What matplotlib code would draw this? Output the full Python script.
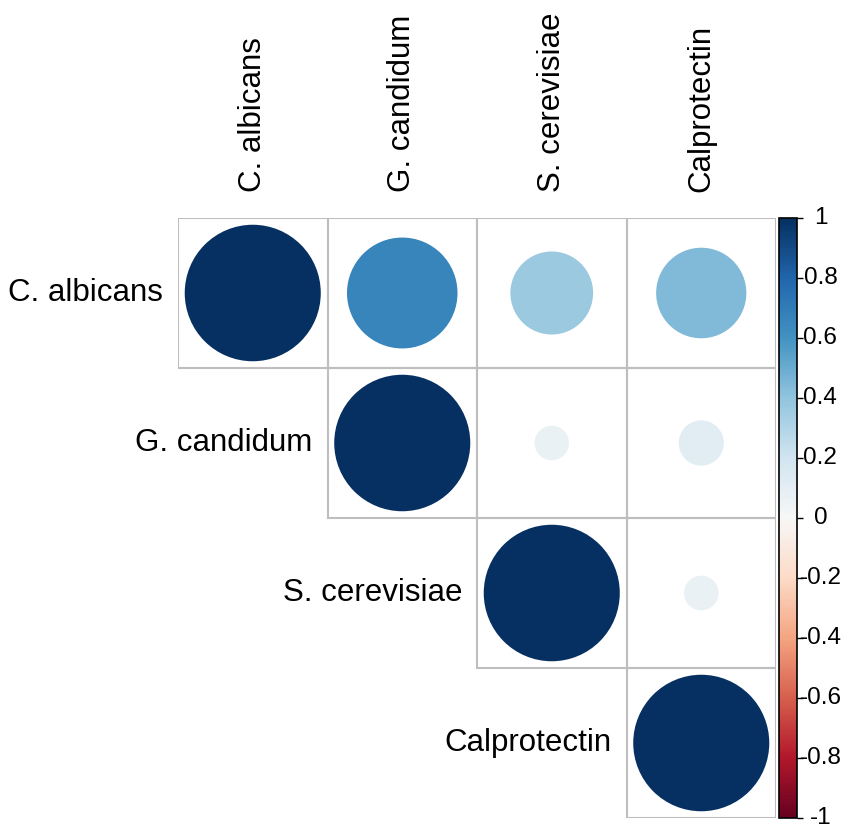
import matplotlib
matplotlib.use("Agg")
import matplotlib.pyplot as plt
import numpy as np
from matplotlib.patches import Circle, Rectangle
from matplotlib.colors import Normalize
import matplotlib.colorbar as mcolorbar
import matplotlib.transforms as mtransforms

plt.rcParams['font.family'] = ['Liberation Sans', 'DejaVu Sans']

variables = ["C. albicans", "G. candidum", "S. cerevisiae", "Calprotectin"]
corr = np.array([
    [1.00, 0.66, 0.37, 0.44],
    [0.66, 1.00, 0.064, 0.11],
    [0.37, 0.064, 1.00, 0.065],
    [0.44, 0.11, 0.065, 1.00],
])
cbar_ticks = [1, 0.8, 0.6, 0.4, 0.2, 0, -0.2, -0.4, -0.6, -0.8, -1]
cbar_labels = ["1", "0.8", "0.6", "0.4", "0.2", "0", "-0.2", "-0.4", "-0.6", "-0.8", "-1"]

W, H = 851, 835
fig = plt.figure(figsize=(W / 100, H / 100), dpi=100)
ax = fig.add_axes([178 / W, 1 - 818 / H, 598 / W, 600 / H])
n = len(variables)
ax.set_xlim(0, n)
ax.set_ylim(n, 0)
ax.axis('off')

cmap = plt.get_cmap('RdBu')
norm = Normalize(-1, 1)
fs = 22.5

for i in range(n):
    for j in range(i, n):
        ax.add_patch(Rectangle((j, i), 1, 1, fill=False, edgecolor='#BEBEBE', lw=1.5, zorder=1))
        r = corr[i, j]
        rad = 0.455 * np.sqrt(abs(r))
        ax.add_patch(Circle((j + 0.5, i + 0.5), rad, facecolor=cmap(norm(r)),
                            edgecolor='none', zorder=2))
    ax.text(i - 0.1, i + 0.5, variables[i], ha='right', va='center', fontsize=fs,
            clip_on=False)

for j in range(n):
    ax.text(j + 0.5, -0.17, variables[j], ha='center', va='bottom', rotation=90,
            fontsize=fs, clip_on=False)

cax = fig.add_axes([779 / W, 1 - 818 / H, 18 / W, 600 / H])
cb = mcolorbar.ColorbarBase(cax, cmap=cmap, norm=norm, orientation='vertical')
cb.set_ticks(cbar_ticks)
cb.set_ticklabels([""] * len(cbar_ticks))
cb.outline.set_linewidth(1.2)
cax.tick_params(length=4, width=1, direction='out')
trans = mtransforms.blended_transform_factory(cax.transAxes, cax.transData)
for t, lab in zip(cbar_ticks, cbar_labels):
    cax.text(2.3, t, lab, ha='center', va='center', fontsize=17.5, transform=trans,
             clip_on=False)

fig.savefig("out.png", dpi=100, facecolor='white')
